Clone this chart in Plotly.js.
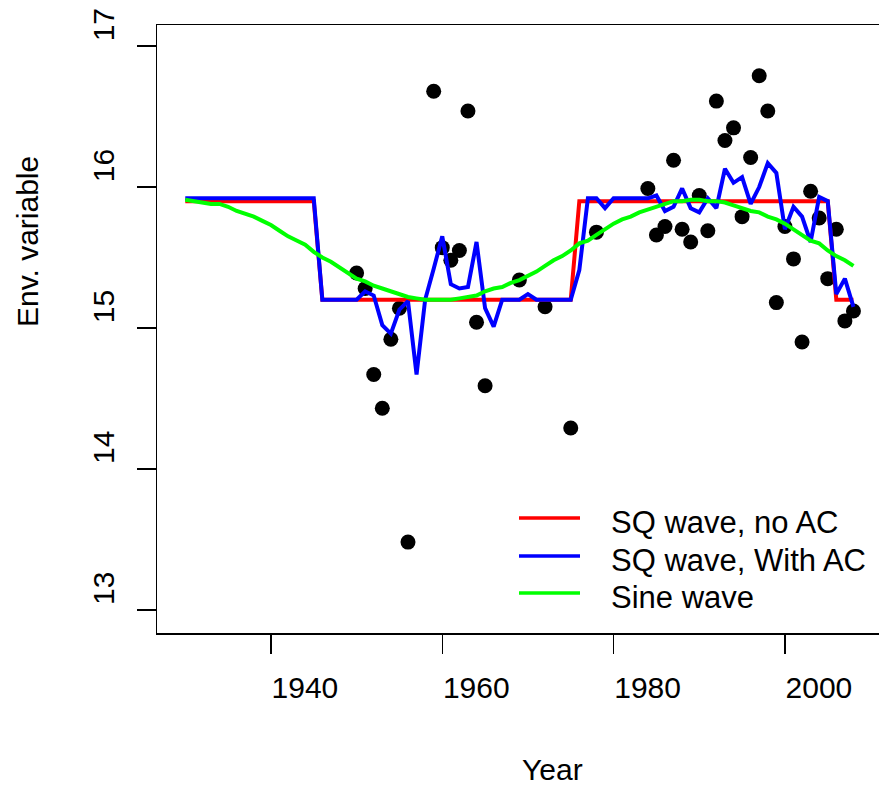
<!DOCTYPE html>
<html>
<head>
<meta charset="utf-8">
<script src="https://cdn.plot.ly/plotly-3.0.1.min.js"></script>
<style>
html, body { margin: 0; padding: 0; overflow: hidden; background: #fff; }
#chart { width: 900px; height: 786px; }
</style>
</head>
<body>
<div id="chart"></div>
<script>
// Observed (points)
const pointYears = [1950,1951,1952,1953,1954,1955,1956,1959,1960,1961,1962,1963,1964,1965,1969,1972,1975,1978,
  1984,1985,1986,1987,1988,1989,1990,1991,1992,1993,1994,1995,1996,1997,1998,1999,2000,2001,2002,2003,2004,2005,2006,2007,2008];
const pointValues = [15.39,15.28,14.67,14.43,14.92,15.14,13.48,16.68,15.57,15.48,15.55,16.54,15.04,14.59,15.34,15.15,14.29,15.68,
  15.99,15.66,15.72,16.19,15.70,15.61,15.94,15.69,16.61,16.33,16.42,15.79,16.21,16.79,16.54,15.18,15.72,15.49,14.90,15.97,15.78,15.35,15.70,15.05,15.12];

// Model lines, one value per year
const lineYears = [1930,1931,1932,1933,1934,1935,1936,1937,1938,1939,
  1940,1941,1942,1943,1944,1945,1946,1947,1948,1949,
  1950,1951,1952,1953,1954,1955,1956,1957,1958,1959,
  1960,1961,1962,1963,1964,1965,1966,1967,1968,1969,
  1970,1971,1972,1973,1974,1975,1976,1977,1978,1979,
  1980,1981,1982,1983,1984,1985,1986,1987,1988,1989,
  1990,1991,1992,1993,1994,1995,1996,1997,1998,1999,
  2000,2001,2002,2003,2004,2005,2006,2007,2008];

const sqNoAC = [15.9,15.9,15.9,15.9,15.9,15.9,15.9,15.9,15.9,15.9,
  15.9,15.9,15.9,15.9,15.9,15.9,15.2,15.2,15.2,15.2,
  15.2,15.2,15.2,15.2,15.2,15.2,15.2,15.2,15.2,15.2,
  15.2,15.2,15.2,15.2,15.2,15.2,15.2,15.2,15.2,15.2,
  15.2,15.2,15.2,15.2,15.2,15.2,15.9,15.9,15.9,15.9,
  15.9,15.9,15.9,15.9,15.9,15.9,15.9,15.9,15.9,15.9,
  15.9,15.9,15.9,15.9,15.9,15.9,15.9,15.9,15.9,15.9,
  15.9,15.9,15.9,15.9,15.9,15.9,15.2,15.2,15.2];

const sqWithAC = [15.92,15.92,15.92,15.92,15.92,15.92,15.92,15.92,15.92,15.92,
  15.92,15.92,15.92,15.92,15.92,15.92,15.2,15.2,15.2,15.2,
  15.2,15.26,15.23,15.02,14.96,15.13,15.19,14.67,15.2,15.42,
  15.65,15.31,15.28,15.29,15.61,15.14,15.01,15.2,15.2,15.2,
  15.24,15.2,15.2,15.2,15.2,15.2,15.41,15.92,15.92,15.85,
  15.92,15.92,15.92,15.92,15.92,15.94,15.83,15.86,15.99,15.85,
  15.82,15.92,15.85,16.13,16.03,16.07,15.88,16.00,16.17,16.10,
  15.70,15.86,15.79,15.61,15.93,15.90,15.24,15.35,15.15];

const sineWave = [15.91,15.90,15.89,15.88,15.88,15.86,15.83,15.81,15.79,15.76,
  15.73,15.69,15.65,15.62,15.59,15.54,15.50,15.47,15.43,15.39,
  15.35,15.33,15.30,15.28,15.26,15.24,15.22,15.21,15.20,15.20,
  15.20,15.20,15.21,15.22,15.23,15.26,15.28,15.29,15.32,15.34,
  15.37,15.40,15.44,15.48,15.51,15.55,15.60,15.62,15.66,15.70,
  15.74,15.77,15.79,15.82,15.84,15.86,15.88,15.90,15.90,15.91,
  15.91,15.90,15.90,15.89,15.87,15.85,15.83,15.82,15.79,15.77,
  15.74,15.70,15.66,15.62,15.60,15.55,15.51,15.48,15.44];

const seriesNames = ["SQ wave, no AC", "SQ wave, With AC", "Sine wave"];
const seriesColors = ["#ff0000", "#0000ff", "#00ff00"];
const xTicks = [1940, 1960, 1980, 2000];
const yTicks = [13, 14, 15, 16, 17];

const FONT = "Liberation Sans, Arial, sans-serif";

// plot-area pixel geometry helpers (for legend / titles placement)
const PL = 157, PW = 723, PB = 633, PH = 608;
const px2x = p => (p - PL) / PW;
const px2y = p => (PB - p) / PH;

const lineSeries = [sqNoAC, sqWithAC, sineWave];

const traces = [
  { x: pointYears, y: pointValues, type: "scatter", mode: "markers",
    marker: { color: "#000000", size: 15 }, showlegend: false, hoverinfo: "x+y" }
];
lineSeries.forEach((vals, i) => traces.push({
  x: lineYears, y: vals, type: "scatter", mode: "lines", name: seriesNames[i],
  line: { color: seriesColors[i], width: 4 }, showlegend: false
}));

// legend drawn as shapes + text annotations (R-style layout)
const legendRowsY = [518, 556, 593];
const shapes = [];
const annotations = [];
seriesNames.forEach((nm, i) => {
  shapes.push({ type: "line", xref: "paper", yref: "paper",
    x0: px2x(519), x1: px2x(580), y0: px2y(legendRowsY[i]), y1: px2y(legendRowsY[i]),
    line: { color: seriesColors[i], width: 3.5 } });
  annotations.push({ text: nm, xref: "paper", yref: "paper",
    x: px2x(609), y: px2y(legendRowsY[i] + 4), xanchor: "left", yanchor: "middle",
    showarrow: false, font: { family: FONT, size: 31, color: "#000" } });
});
annotations.push(
  { text: "Year", xref: "paper", yref: "paper", x: px2x(552), y: px2y(769),
    xanchor: "center", yanchor: "middle", showarrow: false,
    font: { family: FONT, size: 30, color: "#000" } },
  { text: "Env. variable", xref: "paper", yref: "paper", x: px2x(27), y: px2y(242),
    xanchor: "center", yanchor: "middle", showarrow: false, textangle: -90,
    font: { family: FONT, size: 30, color: "#000" } }
);

const layout = {
  width: 900, height: 786,
  margin: { l: 157, r: 20, t: 25, b: 153, pad: 0 },
  paper_bgcolor: "#ffffff", plot_bgcolor: "#ffffff",
  font: { family: FONT, size: 30, color: "#000000" },
  showlegend: false,
  xaxis: {
    range: [1926.7, 2011.1],
    tickmode: "array", tickvals: xTicks, ticktext: xTicks.map(String),
    ticks: "outside", ticklen: 19, tickwidth: 1.5, tickcolor: "#000",
    showline: true, linecolor: "#000", linewidth: 1.5, mirror: true,
    showgrid: false, zeroline: false,
    tickfont: { family: FONT, size: 30, color: "#000" },
    ticklabelshift: 34, ticklabelstandoff: 8
  },
  yaxis: {
    range: [12.835, 17.15],
    tickmode: "array", tickvals: yTicks, ticktext: yTicks.map(String),
    ticks: "outside", ticklen: 19, tickwidth: 1.5, tickcolor: "#000",
    showline: true, linecolor: "#000", linewidth: 1.5, mirror: true,
    showgrid: false, zeroline: false, tickangle: -90,
    tickfont: { family: FONT, size: 30, color: "#000" },
    ticklabelshift: -17, ticklabelstandoff: 11
  },
  shapes: shapes,
  annotations: annotations
};

Plotly.newPlot("chart", traces, layout, { displayModeBar: false, staticPlot: true });
</script>
</body>
</html>
